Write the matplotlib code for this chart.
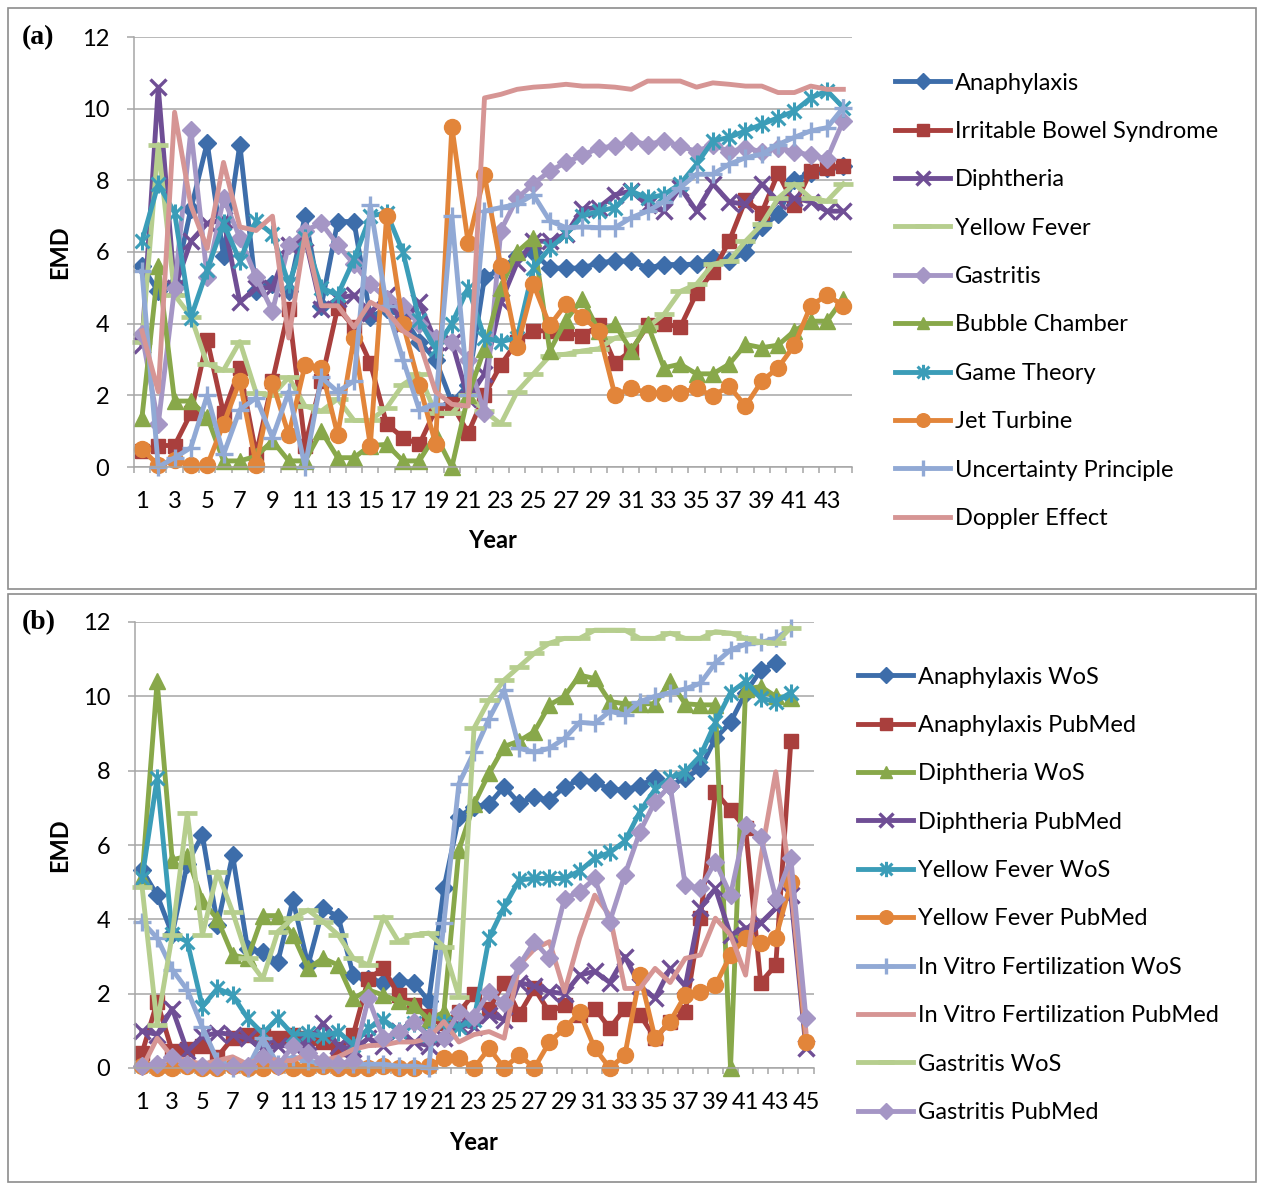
import numpy as np
import matplotlib.pyplot as plt
from matplotlib.path import Path
from matplotlib.patches import Rectangle

plt.rcParams['font.family'] = ['Lato', 'DejaVu Sans']

nan = np.nan

# ---- panel (a): 44 years ----
years_a = np.arange(1, 45)
anaphylaxis = [5.6, 4.9, 5.1, 7.2, 9.05, 5.9, 9.0, 4.9, 5.1, 4.9, 7.0, 4.5, 6.85, 6.85, 4.2, 4.4, 4.2, 3.5, 3.0, 1.8,
               2.3, 5.3, 5.5, 5.9, 6.0, 5.55, 5.55, 5.55, 5.7, 5.75, 5.75, 5.55, 5.65, 5.65, 5.66, 5.84, 5.75, 6.0,
               6.7, 7.05, 8.0, 8.2, 8.35, 8.4]
irritable_bowel = [0.45, 0.6, 0.6, 1.5, 3.55, 1.5, 2.75, 0.35, 2.4, 4.4, 0.6, 2.4, 4.45, 3.9, 2.9, 1.2, 0.82, 0.63,
                   1.6, 1.75, 0.95, 2.0, 2.85, 3.5, 3.8, 3.8, 3.75, 3.65, 3.95, 2.9, 3.25, 3.95, 4.0, 3.9, 4.85,
                   5.45, 6.3, 7.45, 7.1, 8.2, 7.3, 8.25, 8.35, 8.4]
diphtheria = [3.4, 10.6, 5.0, 6.3, 6.8, 6.9, 4.6, 5.0, 5.0, 6.2, 6.4, 4.4, 4.7, 4.8, 4.3, 4.8, 4.0, 4.6, 3.5, 3.5,
              1.9, 2.6, 4.6, 5.7, 6.3, 6.3, 6.5, 7.2, 7.24, 7.6, 7.7, 7.3, 7.14, 7.8, 7.14, 7.9, 7.4, 7.33, 7.9,
              7.42, 7.5, 7.4, 7.14, 7.14]
yellow_fever = [3.5, 9.0, 4.8, 4.2, 2.87, 2.7, 3.5, 2.07, 2.0, 2.5, 1.7, 1.56, 1.9, 1.3, 1.3, 1.65, 2.3, 2.6, 1.5,
                1.5, 2.0, 1.56, 1.2, 2.1, 2.6, 3.1, 3.15, 3.24, 3.3, 3.6, 3.7, 3.9, 4.26, 4.9, 5.1, 5.66, 5.75,
                6.3, 6.77, 7.5, 7.9, 7.5, 7.42, 7.9]
gastritis = [3.7, 1.2, 5.0, 9.4, 5.3, 7.5, 6.4, 5.3, 4.35, 6.2, 6.6, 6.8, 6.2, 5.66, 5.1, 4.7, 4.5, 3.98, 3.6, 3.5,
             3.0, 1.5, 6.6, 7.5, 7.9, 8.26, 8.5, 8.7, 8.9, 8.96, 9.1, 9.0, 9.1, 8.96, 8.8, 9.0, 8.8, 8.9, 8.8, 8.9,
             8.8, 8.7, 8.6, 9.66]
bubble_chamber = [1.38, 5.6, 1.84, 1.84, 1.4, 0.17, 0.17, 0.3, 0.73, 0.17, 0.17, 1.0, 0.26, 0.26, 0.6, 0.63, 0.17,
                  0.17, 0.9, 0.0, 2.0, 3.3, 5.0, 6.0, 6.4, 3.24, 4.1, 4.7, 3.8, 3.98, 3.24, 3.98, 2.77, 2.87, 2.6,
                  2.6, 2.87, 3.42, 3.33, 3.4, 3.8, 4.07, 4.07, 4.7]
game_theory = [6.3, 7.9, 7.1, 4.17, 5.5, 6.8, 5.75, 6.87, 6.5, 5.1, 6.4, 5.0, 4.8, 5.8, 7.0, 7.1, 6.0, 4.1, 3.3, 4.0,
               5.0, 3.6, 3.5, 3.6, 5.56, 6.1, 6.5, 7.0, 7.14, 7.24, 7.7, 7.5, 7.6, 7.9, 8.45, 9.1, 9.2, 9.38, 9.56,
               9.75, 9.93, 10.3, 10.5, 10.03]
jet_turbine = [0.5, 0.05, 0.2, 0.05, 0.05, 1.2, 2.4, 0.05, 2.35, 0.9, 2.85, 2.75, 0.9, 3.6, 0.6, 7.0, 4.0, 2.3,
               0.65, 9.5, 6.25, 8.15, 5.6, 3.35, 5.1, 3.95, 4.55, 4.2, 3.8, 2.0, 2.2, 2.07, 2.07, 2.07, 2.2, 1.98,
               2.26, 1.7, 2.4, 2.77, 3.4, 4.5, 4.8, 4.5]
uncertainty = [5.47, 0.0, 0.26, 0.54, 2.0, 0.35, 1.6, 1.93, 0.82, 2.1, 0.0, 2.5, 2.1, 2.4, 7.3, 4.5, 3.0, 1.6, 1.75,
               7.0, 2.0, 7.14, 7.24, 7.33, 7.6, 6.87, 6.68, 6.7, 6.68, 6.68, 6.96, 7.14, 7.4, 7.8, 8.17, 8.17, 8.45,
               8.63, 8.73, 9.0, 9.2, 9.38, 9.47, 10.03]
doppler = [3.8, 2.1, 9.9, 7.3, 6.1, 8.5, 6.7, 6.6, 7.0, 3.6, 6.5, 4.5, 4.5, 3.9, 4.6, 4.35, 3.8, 3.5, 2.1, 1.75, 1.7,
           10.3, 10.4, 10.54, 10.6, 10.63, 10.68, 10.63, 10.63, 10.6, 10.54, 10.77, 10.77, 10.77, 10.6, 10.72,
           10.68, 10.63, 10.63, 10.45, 10.45, 10.63, 10.54, 10.54]

# ---- panel (b): 45 years ----
years_b = np.arange(1, 46)
anaph_wos = [5.33, 4.65, 3.6, 5.5, 6.27, 3.85, 5.73, 3.2, 3.13, 2.86, 4.52, 2.77, 4.3, 4.07, 2.5, 2.4, 2.3, 2.35, 2.3,
             1.8, 4.83, 6.76, 7.03, 7.1, 7.57, 7.12, 7.3, 7.2, 7.57, 7.75, 7.7, 7.5, 7.48, 7.6, 7.8, 7.6, 7.8, 8.06,
             8.87, 9.3, 10.1, 10.7, 10.9, nan, nan]
anaph_pubmed = [0.4, 1.78, 0.45, 0.5, 0.6, 0.3, 0.8, 0.9, 0.9, 0.8, 0.9, 0.8, 0.7, 0.5, 0.9, 2.4, 2.68, 1.96, 1.7,
                1.4, 1.2, 1.5, 2.0, 1.6, 2.3, 1.45, 2.14, 1.5, 1.7, 1.43, 1.6, 1.07, 1.6, 1.43, 0.8, 1.25, 1.5,
                4.03, 7.43, 6.94, 6.45, 2.3, 2.77, 8.8, nan]
diph_wos = [5.1, 10.4, 5.6, 5.7, 4.5, 4.0, 3.04, 2.95, 4.1, 4.1, 3.58, 2.68, 2.95, 2.77, 1.87, 2.1, 1.96, 1.8, 1.7,
            1.3, 1.5, 5.87, 7.1, 7.93, 8.65, 8.8, 9.05, 9.77, 10.0, 10.57, 10.48, 9.86, 9.8, 9.8, 9.8, 10.4, 9.8,
            9.77, 9.77, 0.0, 10.2, 10.26, 10.0, 9.95, nan]
diph_pubmed = [1.0, 0.9, 1.6, 0.45, 0.85, 0.95, 0.9, 0.8, 0.5, 0.6, 0.6, 0.7, 1.2, 0.6, 0.5, 0.8, 0.6, 1.0, 0.7,
               0.6, 0.8, 1.16, 1.1, 1.43, 1.3, 2.3, 2.2, 2.05, 2.0, 2.5, 2.6, 2.3, 3.0, 2.2, 1.87, 2.68, 2.2, 4.3,
               4.83, 3.58, 3.76, 3.9, 4.3, 4.65, 0.53]
yf_wos = [5.1, 7.8, 3.6, 3.4, 1.65, 2.14, 1.96, 1.34, 0.93, 1.34, 0.9, 0.93, 0.85, 0.98, 0.62, 1.07, 1.3, 1.0, 1.2,
          0.9, 1.2, 1.1, 1.3, 3.5, 4.34, 5.06, 5.1, 5.1, 5.1, 5.3, 5.64, 5.8, 6.1, 6.9, 7.5, 7.8, 7.97, 8.4, 9.3,
          10.1, 10.4, 9.95, 9.86, 10.1, nan]
yf_pubmed = [0.05, 0.0, 0.0, 0.05, 0.0, 0.0, 0.05, 0.0, 0.0, 0.05, 0.0, 0.0, 0.05, 0.0, 0.0, 0.0, 0.05, 0.0, 0.0,
             0.05, 0.26, 0.26, 0.0, 0.53, 0.0, 0.35, 0.0, 0.7, 1.07, 1.5, 0.53, 0.0, 0.35, 2.5, 0.8, 1.25, 1.96,
             2.05, 2.23, 3.04, 3.5, 3.35, 3.5, 5.0, 0.7]
ivf_wos = [3.94, 3.5, 2.65, 2.1, 1.1, 0.2, 0.0, 0.0, 0.8, 0.1, 0.3, 0.2, 0.1, 0.1, 0.1, 0.1, 0.1, 0.05, 0.05, 0.0,
           3.9, 7.65, 8.5, 9.4, 10.17, 8.6, 8.5, 8.6, 8.87, 9.3, 9.27, 9.6, 9.5, 9.86, 10.0, 10.1, 10.2, 10.35,
           10.9, 11.25, 11.4, 11.45, 11.56, 11.83, nan]
ivf_pubmed = [0.0, 0.8, 0.3, 0.2, 0.1, 0.2, 0.3, 0.1, 0.3, 0.2, 0.2, 0.4, 0.2, 0.3, 0.5, 0.6, 0.62, 0.7, 0.7, 0.8,
              1.25, 0.7, 0.9, 0.98, 0.8, 2.77, 3.2, 3.4, 2.05, 3.5, 4.65, 4.1, 2.14, 2.14, 2.68, 2.3, 2.95, 3.04,
              4.03, 3.58, 2.5, 5.64, 7.97, 4.9, 0.98]
gast_wos = [4.88, 1.16, 3.58, 6.85, 3.58, 5.28, 4.2, 2.95, 2.4, 3.67, 4.03, 4.25, 3.94, 3.58, 2.95, 2.77, 4.07, 3.4,
            3.58, 3.63, 3.26, 1.92, 9.14, 9.9, 10.44, 10.8, 11.16, 11.43, 11.56, 11.56, 11.78, 11.78, 11.78, 11.56,
            11.56, 11.7, 11.56, 11.56, 11.74, 11.7, 11.56, 11.47, 11.43, 11.85, nan]
gast_pubmed = [0.05, 0.1, 0.3, 0.1, 0.05, 0.05, 0.05, 0.05, 0.3, 0.05, 0.6, 0.4, 0.2, 0.1, 0.2, 1.87, 0.8, 0.98,
               1.25, 0.84, 0.8, 1.5, 1.38, 2.05, 1.74, 2.77, 3.4, 2.95, 4.56, 4.74, 5.1, 3.94, 5.2, 6.36, 7.17, 7.6,
               4.92, 4.83, 5.55, 4.65, 6.54, 6.22, 4.56, 5.64, 1.34]

# colours (Excel 2010 palette)
BLUE, RED, PURPLE, LGREEN = '#3D6DAA', '#A93F3D', '#6F4E95', '#B6CE8E'
LPURPLE, GREEN, TEAL, ORANGE = '#A596C5', '#88A84A', '#3B9DB8', '#E2853A'
LBLUE, PINK = '#91A9D5', '#D69594'
GRID = '#a6a6a6'
FS = 17

# Excel's asterisk marker: an X with a vertical bar
star = Path([(-1, -1), (1, 1), (-1, 1), (1, -1), (0, -1.3), (0, 1.3)],
            [Path.MOVETO, Path.LINETO] * 3)

mk = {
    'D': dict(marker='D', ms=9),
    's': dict(marker='s', ms=9.5),
    'x': dict(marker='x', ms=12, mew=2.4),
    '_': dict(marker='_', ms=14, mew=3.4),
    '^': dict(marker='^', ms=11),
    '*': dict(marker=star, ms=13, mew=2.2),
    'o': dict(marker='o', ms=11.5),
    '+': dict(marker='+', ms=13, mew=2.4),
    None: dict(marker=None),
}

series_a = [
    ("Anaphylaxis", anaphylaxis, BLUE, 'D'),
    ("Irritable Bowel Syndrome", irritable_bowel, RED, 's'),
    ("Diphtheria", diphtheria, PURPLE, 'x'),
    ("Yellow Fever", yellow_fever, LGREEN, '_'),
    ("Gastritis", gastritis, LPURPLE, 'D'),
    ("Bubble Chamber", bubble_chamber, GREEN, '^'),
    ("Game Theory", game_theory, TEAL, '*'),
    ("Jet Turbine", jet_turbine, ORANGE, 'o'),
    ("Uncertainty Principle", uncertainty, LBLUE, '+'),
    ("Doppler Effect", doppler, PINK, None),
]
series_b = [
    ("Anaphylaxis WoS", anaph_wos, BLUE, 'D'),
    ("Anaphylaxis PubMed", anaph_pubmed, RED, 's'),
    ("Diphtheria WoS", diph_wos, GREEN, '^'),
    ("Diphtheria PubMed", diph_pubmed, PURPLE, 'x'),
    ("Yellow Fever WoS", yf_wos, TEAL, '*'),
    ("Yellow Fever PubMed", yf_pubmed, ORANGE, 'o'),
    ("In Vitro Fertilization WoS", ivf_wos, LBLUE, '+'),
    ("In Vitro Fertilization PubMed", ivf_pubmed, PINK, None),
    ("Gastritis WoS", gast_wos, LGREEN, '_'),
    ("Gastritis PubMed", gast_pubmed, LPURPLE, 'D'),
]

W, H = 1262, 1185
fig = plt.figure(figsize=(W / 100, H / 100), dpi=100)

# panel frames
for top, bot in [(8, 589), (594, 1182)]:
    fig.add_artist(Rectangle((8 / W, 1 - bot / H), (1256 - 8) / W, (bot - top) / H,
                             transform=fig.transFigure, fill=False, ec='#8c8c8c', lw=1.2))

panels = [
    ("(a)", years_a, series_a, (133.8, 851.5, 37, 467), (895, 72.5)),
    ("(b)", years_b, series_b, (134.5, 813.5, 622, 1068), (858, 666.5)),
]

for tag, years, series, (x0, x1, y0, y1), (lx, ly) in panels:
    ax = fig.add_axes([x0 / W, 1 - y1 / H, (x1 - x0) / W, (y1 - y0) / H])
    for name, vals, col, m in series:
        ax.plot(years, vals, color=col, lw=3.5, label=name, clip_on=False,
                mfc=col, mec=col, solid_joinstyle='round', **mk[m])
    n = len(years)
    ax.set_xlim(0.5, n + 0.5)
    ax.set_ylim(0, 12)
    ax.set_yticks(np.arange(0, 13, 2))
    ax.grid(axis='y', color=GRID, lw=1.1)
    ax.set_axisbelow(True)
    for s in ['top', 'right']:
        ax.spines[s].set_visible(False)
    for s in ['left', 'bottom']:
        ax.spines[s].set_color(GRID)
        ax.spines[s].set_linewidth(1.1)
    ax.set_xticks(np.arange(0.5, n + 1, 1))
    ax.set_xticklabels([])
    ax.set_xticks(years[::2], minor=True)
    ax.set_xticklabels([str(v) for v in years[::2]], minor=True)
    ax.tick_params(axis='x', which='major', length=4.3, width=1.1, color=GRID)
    ax.tick_params(axis='x', which='minor', length=0, pad=17, labelsize=FS)
    ax.tick_params(axis='y', length=5, width=1.1, color=GRID, pad=12.5, labelsize=FS)
    ax.set_xlabel("Year", fontsize=FS, fontweight='bold', va='center')
    ax.xaxis.set_label_coords(0.5, -74 / (y1 - y0))
    ax.set_ylabel("EMD", fontsize=FS, fontweight='bold', va='center')
    ax.yaxis.set_label_coords(-(x0 - 60) / (x1 - x0), 0.5)
    ax.legend(loc='upper left', bbox_to_anchor=(lx / W, 1 - ly / H), bbox_transform=fig.transFigure,
              frameon=False, fontsize=FS, borderpad=0, borderaxespad=0, labelspacing=1.16,
              handlelength=2.35, handletextpad=0.2, markerscale=0.85, numpoints=1)
    fig.text(22 / W, 1 - (y0 + 1) / H, tag, family=['Liberation Serif', 'DejaVu Serif'],
             fontweight='bold', fontsize=20, va='center', ha='left')

fig.savefig("out.png", dpi=100)
